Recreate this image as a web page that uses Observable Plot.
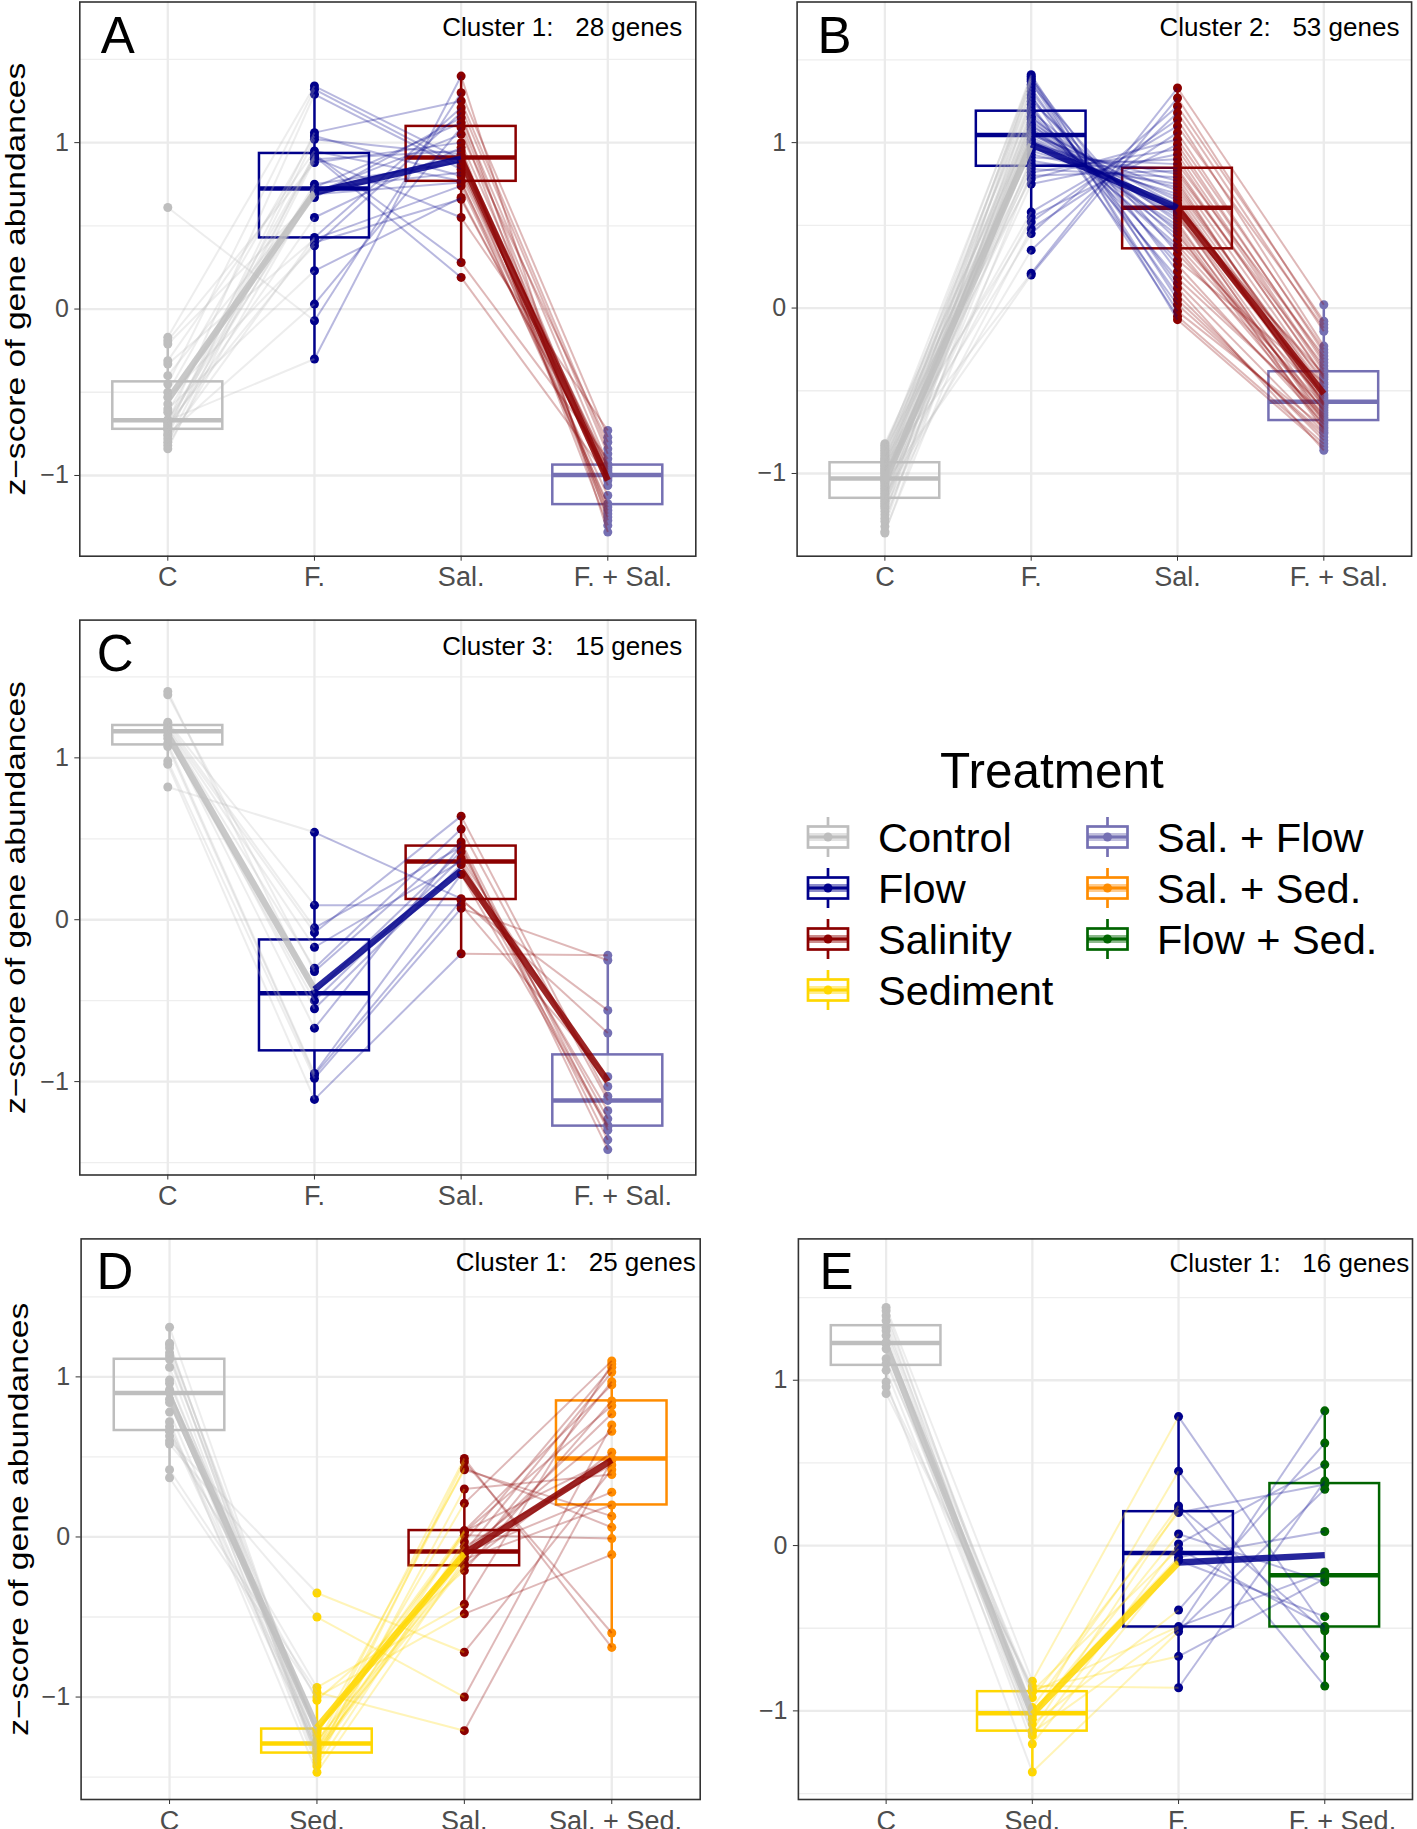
<!DOCTYPE html>
<html><head><meta charset="utf-8">
<script src="https://cdn.jsdelivr.net/npm/d3@7"></script>
<script src="https://cdn.jsdelivr.net/npm/@observablehq/plot@0.6"></script>
<style>
html,body{margin:0;padding:0;background:#fff;}
#fig{position:relative;width:1417px;height:1829px;overflow:hidden;background:#fff;}
.panel{position:absolute;}
.panel svg{max-width:none !important;}
</style></head><body><div id="fig"></div>
<script>
const FONT = '"Liberation Sans", Arial, Helvetica, sans-serif';
const yTitleText = "z\u2212score of gene abundances";

// Treatments (legend)
const treatmentNames = ["Control","Flow","Salinity","Sediment","Sal. + Flow","Sal. + Sed.","Flow + Sed."];
const treatmentColors = ["#BEBEBE","#00008B","#8B0000","#FFD700","#7570B3","#FF8C00","#006400"];

// Panel A : Cluster 1, 28 genes (C, F., Sal., F. + Sal.)
const A_cats = ["C","F.","Sal.","F. + Sal."];
const A_groups = ["Control","Flow","Salinity","Sal. + Flow"];
const A_control = [-0.17,-0.45,-0.68,-0.72,-0.50,-0.76,-0.31,-0.80,-0.62,-0.70,-0.84,-0.19,-0.665,-0.73,-0.57,-0.82,-0.40,-0.675,-0.21,-0.71,-0.78,-0.33,-0.69,-0.53,-0.60,-0.75,0.61,-0.67];
const A_flow = [1.34,1.32,1.29,1.06,1.04,1.02,0.95,0.93,0.92,0.91,0.90,0.88,0.75,0.73,0.72,0.71,0.70,0.69,0.67,0.55,0.43,0.42,0.40,0.38,0.23,0.03,-0.07,-0.30];
const A_sal = [0.90,0.86,0.84,1.25,0.80,0.93,0.77,0.28,0.19,0.55,0.95,1.00,0.88,1.12,0.82,0.92,1.05,0.76,1.15,0.97,1.21,0.74,0.66,1.18,0.67,1.09,1.30,1.40];
const A_flowSal = [-0.95,-1.21,-1.00,-0.84,-1.03,-0.97,-1.17,-0.90,-1.01,-0.73,-1.25,-0.99,-0.94,-1.06,-0.96,-1.19,-0.80,-1.02,-0.93,-1.30,-0.87,-1.12,-0.98,-1.27,-0.995,-1.23,-0.77,-1.34];

// Panel B : Cluster 2, 53 genes
const B_cats = ["C","F.","Sal.","F. + Sal."];
const B_groups = ["Control","Flow","Salinity","Sal. + Flow"];
const B_control = [-0.93,-1.12,-0.86,-1.25,-1.01,-0.97,-1.17,-0.89,-1.05,-1.32,-0.95,-1.08,-0.84,-1.20,-0.99,-1.14,-0.91,-1.29,-1.03,-0.87,-1.10,-0.955,-1.19,-0.82,-1.36,-1.045,-0.92,-1.15,-0.98,-1.23,-0.88,-1.07,-0.94,-1.16,-1.00,-0.83,-1.27,-1.04,-0.90,-1.11,-0.96,-1.35,-1.02,-0.85,-1.18,-0.975,-1.09,-0.915,-1.21,-0.995,-1.13,-0.935,-1.06];
const B_flow = [1.41,1.40,1.39,1.38,1.37,1.35,1.33,1.31,1.29,1.27,1.25,1.23,1.21,1.19,1.18,1.16,1.15,1.14,1.12,1.11,1.10,1.09,1.08,1.07,1.06,1.055,1.046,1.035,1.02,1.01,1.00,0.99,0.98,0.96,0.95,0.93,0.91,0.89,0.87,0.857,0.84,0.82,0.80,0.78,0.75,0.58,0.55,0.52,0.48,0.45,0.35,0.21,0.20];
const B_sal = [0.05,-0.07,0.22,0.12,-0.02,0.33,0.08,0.15,-0.05,0.26,0.41,0.02,0.18,0.46,0.29,0.358,0.52,0.38,0.57,0.44,0.62,0.48,0.54,0.50,0.65,0.56,0.71,0.58,0.595,0.67,0.607,0.77,0.63,0.81,0.69,0.73,0.87,0.75,0.845,0.90,0.79,0.96,0.83,1.02,0.93,1.10,0.99,1.14,1.06,1.22,1.18,1.33,1.27];
const B_flowSal = [-0.78,-0.84,-0.66,-0.86,-0.72,-0.61,-0.80,-0.75,-0.82,-0.70,-0.55,-0.76,-0.64,-0.74,-0.45,-0.68,-0.73,-0.59,-0.69,-0.62,-0.52,-0.71,-0.40,-0.65,-0.585,-0.67,-0.48,-0.63,-0.566,-0.60,-0.43,-0.58,-0.575,-0.35,-0.54,-0.50,-0.29,-0.53,-0.42,-0.385,-0.46,-0.31,-0.41,-0.25,-0.37,-0.12,-0.33,-0.23,-0.27,-0.08,-0.14,0.02,-0.10];

// Panel C : Cluster 3, 15 genes
const C_cats = ["C","F.","Sal.","F. + Sal."];
const C_groups = ["Control","Flow","Salinity","Sal. + Flow"];
const C_control = [0.82,1.41,1.39,1.22,1.21,1.19,1.18,1.17,1.165,1.14,1.12,1.09,1.07,0.98,0.96];
const C_flow = [0.54,-0.454,-0.32,0.09,-0.05,-0.08,-0.17,-0.30,-0.55,-0.67,-0.50,-0.95,-0.96,-0.98,-1.11];
const C_sal = [0.13,0.42,0.48,0.09,0.45,0.64,0.36,0.56,0.34,0.46,0.38,0.28,0.12,0.07,-0.21];
const C_flowSal = [-0.70,-1.23,-1.30,-0.97,-1.36,-1.09,-1.18,-1.116,-1.27,-1.42,-1.03,-1.28,-0.56,-0.25,-0.22];

// Panel D : Cluster 1, 25 genes (C, Sed., Sal., Sal. + Sed.)
const D_cats = ["C","Sed.","Sal.","Sal. + Sed."];
const D_groups = ["Control","Sediment","Salinity","Sal. + Sed."];
const D_control = [1.31,1.21,1.20,1.18,1.15,1.13,1.11,1.06,0.98,0.96,0.92,0.91,0.90,0.86,0.84,0.78,0.72,0.69,0.665,0.66,0.63,0.60,0.58,0.42,0.37];
const D_sed = [-1.30,-1.39,-1.33,-1.24,-1.41,-1.35,-1.22,-1.37,-1.29,-1.205,-1.43,-1.31,-1.21,-1.34,-1.20,-1.355,-1.47,-1.27,-1.32,-1.02,-0.94,-0.35,-0.50,-0.97,-1.00];
const D_sal = [0.49,0.47,0.43,0.42,0.30,0.21,0.04,0.035,0.03,0.01,-0.03,-0.06,-0.09,-0.095,-0.10,-0.12,-0.14,-0.17,-0.18,-0.21,-0.42,-0.72,-1.00,-1.21,-0.48];
const D_salSed = [-0.69,-0.60,0.06,0.13,0.39,1.10,0.95,0.49,0.82,-0.01,1.06,0.45,0.66,1.03,0.28,0.77,0.20,0.97,0.53,0.85,1.08,0.42,0.70,0.48,-0.11];

// Panel E : Cluster 1, 16 genes (C, Sed., F., F. + Sed.)
const E_cats = ["C","Sed.","F.","F. + Sed."];
const E_groups = ["Control","Sediment","Flow","Flow + Sed."];
const E_control = [1.44,1.42,1.39,1.36,1.32,1.30,1.27,1.23,1.22,1.19,1.13,1.10,1.06,0.99,0.96,0.92];
const E_sed = [-0.82,-1.05,-0.98,-1.12,-0.92,-1.03,-1.15,-0.88,-1.00,-1.20,-1.08,-0.885,-1.13,-1.37,-0.87,-0.85];
const E_flow = [0.78,0.45,0.24,0.22,0.20,0.07,0.01,-0.02,-0.07,-0.09,-0.39,-0.49,-0.50,-0.52,-0.67,-0.86];
const E_flowSed = [-0.50,-0.67,-0.515,-0.85,0.37,-0.22,0.49,-0.49,0.085,-0.43,0.62,-0.16,0.815,0.34,-0.20,0.39];

const colorOf = g => treatmentColors[treatmentNames.indexOf(g)];
const fig = document.getElementById("fig");

function drawPanel(p) {
  const cols = p.groups.map(colorOf);
  const series = p.values;
  const n = series[0].length;
  const pts = [];
  series.forEach((arr, gi) => arr.forEach((v, k) => pts.push({gi, gene: k, v, color: cols[gi]})));
  const segs = [];
  for (let gi = 0; gi < 3; gi++) for (let k = 0; k < n; k++)
    segs.push({x1: gi, x2: gi + 1, y1: series[gi][k], y2: series[gi + 1][k], color: cols[gi]});
  const stats = series.map((arr, gi) => {
    const s = arr.slice().sort(d3.ascending);
    const q1 = d3.quantile(s, 0.25), med = d3.quantile(s, 0.5), q3 = d3.quantile(s, 0.75);
    const iqr = q3 - q1;
    const lo = d3.min(s.filter(v => v >= q1 - 1.5 * iqr));
    const hi = d3.max(s.filter(v => v <= q3 + 1.5 * iqr));
    return {gi, q1, med, q3, lo, hi, mean: d3.mean(arr), color: cols[gi]};
  });
  const meanSegs = [0, 1, 2].map(gi => ({x1: gi, x2: gi + 1, y1: stats[gi].mean, y2: stats[gi + 1].mean, color: cols[gi]}));
  const [d0, d1] = p.domain;
  const minor = [-1.5, -0.5, 0.5, 1.5].filter(v => v > d0 && v < d1);
  const hw = 0.375;
  const svg = Plot.plot({
    width: p.width, height: p.height,
    marginLeft: p.ml, marginRight: p.mr, marginTop: p.mt, marginBottom: p.mb,
    x: {domain: [-0.6, 3.6], axis: null},
    y: {domain: p.domain, axis: null},
    color: {type: "identity"},
    style: {fontFamily: FONT, background: "transparent", overflow: "visible", maxWidth: "none"},
    marks: [
      Plot.ruleY(minor, {stroke: "#EEEEEE", strokeWidth: 1.3}),
      Plot.ruleY([-1, 0, 1], {stroke: "#EBEBEB", strokeWidth: 2.3}),
      Plot.ruleX([0, 1, 2, 3], {stroke: "#EBEBEB", strokeWidth: 2.3}),
      Plot.ruleX(stats, {x: "gi", y1: "lo", y2: "q1", stroke: "color", strokeWidth: 2.5}),
      Plot.ruleX(stats, {x: "gi", y1: "q3", y2: "hi", stroke: "color", strokeWidth: 2.5}),
      Plot.rect(stats, {x1: d => d.gi - hw, x2: d => d.gi + hw, y1: "q1", y2: "q3", stroke: "color", strokeWidth: 2.5, fill: "none"}),
      Plot.ruleY(stats, {y: "med", x1: d => d.gi - hw, x2: d => d.gi + hw, stroke: "color", strokeWidth: 4.5}),
      Plot.dot(pts, {x: "gi", y: "v", fill: "color", r: 4.5}),
      Plot.link(segs, {x1: "x1", y1: "y1", x2: "x2", y2: "y2", stroke: "color", strokeOpacity: 0.28, strokeWidth: 2}),
      Plot.link(meanSegs, {x1: "x1", y1: "y1", x2: "x2", y2: "y2", stroke: "color", strokeOpacity: 0.85, strokeWidth: 6.5}),
      Plot.frame({stroke: "#333333", strokeWidth: 1.6}),
      Plot.axisX({ticks: [0, 1, 2, 3], tickFormat: i => (i === 3 ? p.lastPad : "") + p.cats[i], tickSize: 5, tickPadding: 6, fontSize: 27, fill: "#4D4D4D", stroke: "#333333", label: null}),
      Plot.axisY({ticks: [-1, 0, 1], tickFormat: d => d < 0 ? "\u2212" + (-d) : String(d), tickSize: 5, tickPadding: 6, fontSize: 25, fill: "#4D4D4D", stroke: "#333333", label: null}),
      Plot.text([p.letter], {frameAnchor: "top-left", dx: p.letterDx, dy: 50.5, fontSize: 51, textAnchor: "start", lineAnchor: "bottom", fill: "black"}),
      Plot.text([p.cluster], {frameAnchor: "top-right", dx: p.clusterDx, dy: p.clusterDy, fontSize: 26, textAnchor: "end", lineAnchor: "bottom", fill: "black"}),
      p.yTitle ? Plot.text([yTitleText], {frameAnchor: "left", dx: p.titleDx, rotate: -90, fontSize: 28, textAnchor: "middle", lineAnchor: "middle", fill: "black"}) : null
    ]
  });
  svg.style.maxWidth = "none";
  if (p.yTitle) {
    const t = Array.from(svg.querySelectorAll("text")).find(e => e.textContent === yTitleText);
    if (t) { t.setAttribute("textLength", 433); t.setAttribute("lengthAdjust", "spacingAndGlyphs"); }
  }
  const div = document.createElement("div");
  div.className = "panel";
  div.style.left = p.left + "px";
  div.style.top = p.top + "px";
  div.style.width = p.width + "px";
  div.appendChild(svg);
  fig.appendChild(div);
}

const NB = "\u00a0";
drawPanel({letter: "A", cluster: "Cluster 1:\u00a0\u00a0\u00a028 genes", cats: A_cats, groups: A_groups, lastPad: NB.repeat(4),
  values: [A_control, A_flow, A_sal, A_flowSal], domain: [-1.485, 1.845],
  left: 0, top: 0, width: 707, height: 601, ml: 79.3, mr: 11.7, mt: 1.5, mb: 45.3,
  letterDx: 21, clusterDx: -13.6, clusterDy: 33.7, yTitle: true, titleDx: -63.4});
drawPanel({letter: "B", cluster: "Cluster 2:\u00a0\u00a0\u00a053 genes", cats: B_cats, groups: B_groups, lastPad: NB.repeat(4),
  values: [B_control, B_flow, B_sal, B_flowSal], domain: [-1.50, 1.85],
  left: 709, top: 0, width: 708, height: 601, ml: 87.6, mr: 5.9, mt: 1.5, mb: 45.3,
  letterDx: 20.5, clusterDx: -12.2, clusterDy: 33.7, yTitle: false});
drawPanel({letter: "C", cluster: "Cluster 3:\u00a0\u00a0\u00a015 genes", cats: C_cats, groups: C_groups, lastPad: NB.repeat(4),
  values: [C_control, C_flow, C_sal, C_flowSal], domain: [-1.577, 1.851],
  left: 0, top: 600, width: 707, height: 620, ml: 79.3, mr: 11.7, mt: 19.6, mb: 45.5,
  letterDx: 17, clusterDx: -13.6, clusterDy: 34.4, yTitle: true, titleDx: -63.4});
drawPanel({letter: "D", cluster: "Cluster 1:\u00a0\u00a0\u00a025 genes", cats: D_cats, groups: D_groups, lastPad: NB,
  values: [D_control, D_sed, D_sal, D_salSed], domain: [-1.64, 1.862],
  left: 0, top: 1218, width: 710, height: 611, ml: 80.6, mr: 10.3, mt: 20.4, mb: 30,
  letterDx: 15.5, clusterDx: -4.5, clusterDy: 31.7, yTitle: true, titleDx: -62});
drawPanel({letter: "E", cluster: "Cluster 1:\u00a0\u00a0\u00a016 genes", cats: E_cats, groups: E_groups, lastPad: NB.repeat(4) + "\u2009",
  values: [E_control, E_sed, E_flow, E_flowSed], domain: [-1.536, 1.855],
  left: 709, top: 1218, width: 708, height: 611, ml: 88.9, mr: 5, mt: 20.4, mb: 30,
  letterDx: 21, clusterDx: -3.2, clusterDy: 32.9, yTitle: false});

// Legend
(function () {
  const ox = 740, oy = 700;
  const leg = d3.select(fig).append("svg")
    .attr("width", 677).attr("height", 330)
    .style("position", "absolute").style("left", ox + "px").style("top", oy + "px")
    .style("font-family", FONT);
  leg.append("text").attr("x", 940 - ox).attr("y", 788 - oy).attr("font-size", 49.5).attr("fill", "black").text("Treatment");
  const rows = [837, 888, 939, 990];
  const items = treatmentNames.map((name, i) => ({
    name, color: treatmentColors[i],
    cx: i < 4 ? 828 : 1107.5, tx: i < 4 ? 878 : 1157, cy: rows[i < 4 ? i : i - 4]
  }));
  items.forEach(it => {
    const g = leg.append("g").attr("transform", `translate(${it.cx - ox},${it.cy - oy})`);
    g.append("line").attr("x1", 0).attr("x2", 0).attr("y1", -20).attr("y2", 20).attr("stroke", it.color).attr("stroke-width", 2.7);
    g.append("rect").attr("x", -20).attr("y", -10.5).attr("width", 40).attr("height", 21).attr("fill", "white").attr("stroke", it.color).attr("stroke-width", 2.7);
    g.append("line").attr("x1", -20).attr("x2", 20).attr("y1", 0).attr("y2", 0).attr("stroke", it.color).attr("stroke-width", 8).attr("stroke-opacity", 0.45);
    g.append("line").attr("x1", -20).attr("x2", 20).attr("y1", 0).attr("y2", 0).attr("stroke", it.color).attr("stroke-width", 3);
    g.append("circle").attr("r", 4.5).attr("fill", it.color);
    leg.append("text").attr("x", it.tx - ox).attr("y", it.cy - oy + 15).attr("font-size", 41.5).attr("fill", "black").text(it.name);
  });
})();
</script></body></html>
